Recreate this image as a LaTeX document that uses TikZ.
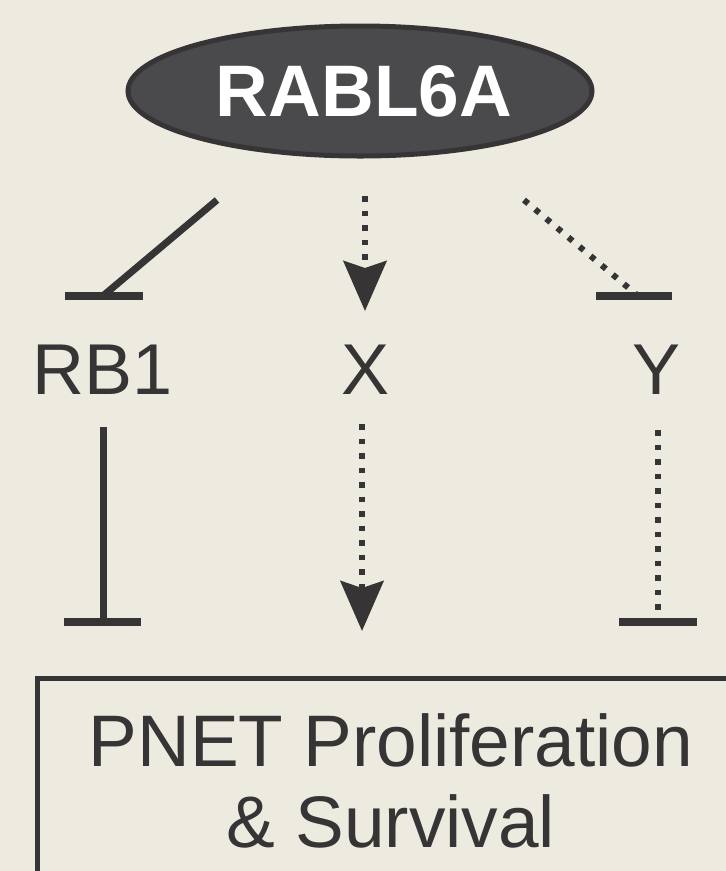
\documentclass[tikz,border=0pt]{standalone}
\usepackage{fontspec}
\setmainfont{Liberation Sans}
\usetikzlibrary{arrows.meta,shapes.geometric}
\definecolor{bgc}{RGB}{237,235,224}
\definecolor{ink}{RGB}{54,52,53}
\definecolor{ellfill}{RGB}{74,74,76}
\tikzset{
  solidline/.style={draw=ink, line width=7pt},
  dotline/.style={draw=ink, line width=6pt, dash pattern=on 5.5pt off 9pt},
  barline/.style={draw=ink, line width=8pt},
  headtip/.style={-{Stealth[length=50pt,width=43pt,inset=7pt]}},
  lbl/.style={text=ink, font=\fontsize{72}{80}\selectfont, anchor=base, inner sep=0pt},
}
\begin{document}
\begin{tikzpicture}[x=1pt,y=-1pt]
\useasboundingbox (0,0) rectangle (726,871);
\fill[bgc] (0,0) rectangle (726,871);
\clip (0,0) rectangle (726,871);

% top ellipse
\node[ellipse, draw=ink, line width=5pt, fill=ellfill, minimum width=464pt, minimum height=130pt, inner sep=0pt,
      text=white, font=\fontsize{73}{80}\selectfont\bfseries] (rabl) at (360,91) {\hspace*{8pt}RABL6A};

% labels
\node[lbl] (rb1) at (103,394) {RB1};
\node[lbl] (x) at (366,394) {X};
\node[lbl] (y) at (657,394) {Y};

% connector end coordinates
\coordinate (l1a) at (217,200);
\coordinate (l1b) at (104,295);
\coordinate (m1a) at (365,196);
\coordinate (m1b) at (365,311);
\coordinate (r1a) at (524,200);
\coordinate (r1b) at (637,295);
\coordinate (l2a) at (103,427);
\coordinate (l2b) at (103,620);
\coordinate (m2a) at (362,424);
\coordinate (m2b) at (362,631);
\coordinate (r2a) at (658,430);
\coordinate (r2b) at (658,620);

% RABL6A -| RB1
\draw[solidline] (l1a) -- (l1b);
\draw[barline] (65,296) -- (143,296);
% RABL6A -> X
\draw[dotline, headtip] (m1a) -- (m1b);
% RABL6A -| Y (dotted)
\draw[dotline] (r1a) -- (r1b);
\draw[barline] (596,296) -- (672,296);

% RB1 -| proliferation
\draw[solidline] (l2a) -- (l2b);
\draw[barline] (64,622) -- (141,622);
% X -> proliferation
\draw[dotline, headtip] (m2a) -- (m2b);
% Y -| proliferation
\draw[dotline] (r2a) -- (r2b);
\draw[barline] (619,622) -- (697,622);

% bottom box
\node[draw=ink, line width=5pt, rectangle, minimum width=720pt, minimum height=240pt, anchor=north west, inner sep=0pt] (box) at (35,676) {};
\node[text=ink, font=\fontsize{73}{81}\selectfont, align=center, anchor=base, inner sep=0pt] (txt) at (391,847) {PNET Proliferation\\\& Survival};
\end{tikzpicture}
\end{document}
